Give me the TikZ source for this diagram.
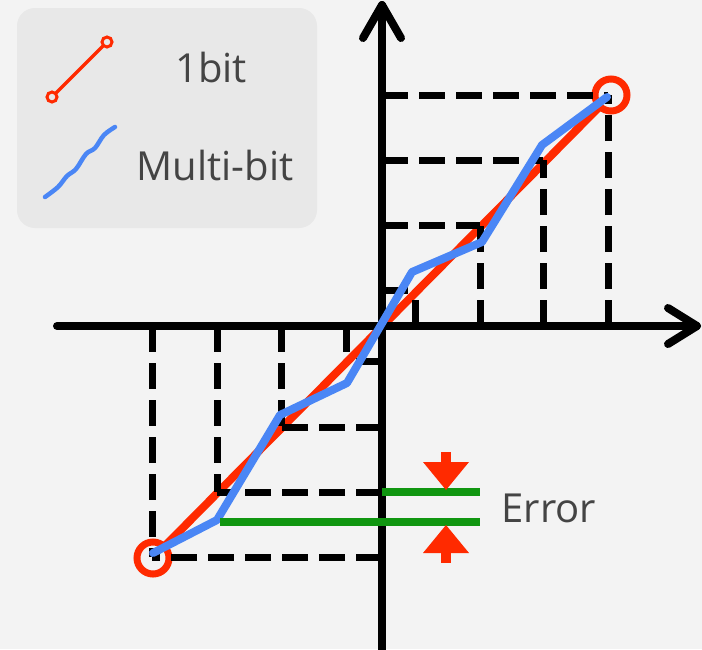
\documentclass[tikz,border=0pt]{standalone}
\usepackage{fontspec}
\setmainfont{Open Sans}
\definecolor{bgc}{HTML}{F3F3F3}
\definecolor{legc}{HTML}{E8E8E8}
\definecolor{redc}{RGB}{255,42,0}
\definecolor{bluec}{RGB}{74,134,245}
\definecolor{greenc}{RGB}{16,150,16}
\definecolor{txtc}{HTML}{444444}
\begin{document}
\begin{tikzpicture}[x=1pt,y=-1pt,
  dashln/.style={line width=7pt, dash pattern=on 26pt off 11pt},
  axisln/.style={line width=8pt, line cap=round, line join=round},
  redln/.style={redc, line width=8pt, line cap=round},
  blueln/.style={bluec, line width=8pt, line cap=round, line join=round},
  ring/.style={redc, line width=7pt, fill=bgc},
  greenln/.style={greenc, line width=7.5pt},
  errarrow/.style={fill=redc, draw=none},
  lbl/.style={text=txtc, font=\fontsize{40pt}{48pt}\selectfont, inner sep=0pt}]
% background
\fill[bgc] (0,0) rectangle (702,649);
\useasboundingbox (0,0) rectangle (702,649);
% legend
\fill[legc, rounded corners=18pt] (17,8) rectangle (317,228);
\draw[redc, line width=3.5pt] (52,97) -- (107,42);
\draw[redc, line width=3pt, fill=legc] (52,97) circle[radius=5];
\draw[redc, line width=3pt, fill=legc] (107,42) circle[radius=5];
\draw[bluec, line width=4.5pt, line cap=round] plot[smooth, tension=0.6] coordinates {(45,197) (58,187) (67,176) (76,169) (86,154) (95,148) (104,135) (115,127)};
\node[lbl, anchor=base] (t1) at (211,82) {1bit};
\node[lbl, anchor=base] (t2) at (215,180) {Multi-bit};
% grid coordinates
\coordinate (O) at (382,326);
\coordinate (P1) at (415,290);
\coordinate (P2) at (480,225);
\coordinate (P3) at (543,160);
\coordinate (P4) at (608,95);
\coordinate (N1) at (346,361);
\coordinate (N2) at (281,427);
\coordinate (N3) at (217,492);
\coordinate (N4) at (152,557);
% red line and rings
\draw[redln] (153,558) -- (611,95);
\draw[ring] (153,558) circle[radius=16];
\draw[ring] (611,95) circle[radius=16];
% dashed lines
\foreach \p in {P1,P2,P3,P4,N1,N2,N3,N4}{
  \draw[dashln] (O |- \p) -- (\p);
  \draw[dashln] (O -| \p) -- (\p);
}
% axes
\draw[axisln] (57,326) -- (697,326);
\draw[axisln] (382,660) -- (382,5);
\draw[axisln] (668,308) -- (697,326) -- (668,344);
\draw[axisln] (363,38) -- (382,5) -- (401,38);
% blue line
\draw[blueln] (153,553) -- (217,520) -- (280,415) -- (347,383) -- (412,272) -- (482,242) -- (542,145) -- (607,97);
% green error lines
\draw[greenln] (382,492) -- (480,492);
\draw[greenln] (220,522) -- (480,522);
% red arrows
\fill[errarrow] (441,452) rectangle (451,464);
\fill[errarrow] (423,462) -- (469,462) -- (446,490) -- cycle;
\fill[errarrow] (441,551) rectangle (451,563);
\fill[errarrow] (423,553) -- (469,553) -- (446,525) -- cycle;
\node[lbl, anchor=base] (err) at (549,522) {Error};
\end{tikzpicture}
\end{document}
